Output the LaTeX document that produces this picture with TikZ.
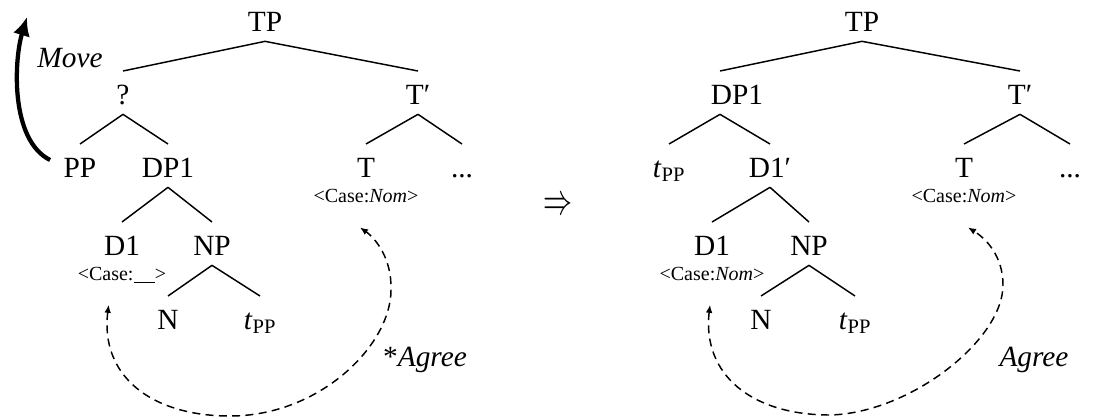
\documentclass[tikz,border=0pt]{standalone}
\usepackage{fontspec}
\setmainfont{Liberation Serif}
\usetikzlibrary{positioning,arrows.meta}

\begin{document}
\begin{tikzpicture}[x=0.75pt, y=-0.75pt,
  font=\fontsize{22}{26}\selectfont,
  every node/.style={inner sep=0pt, text height=14.6pt, text depth=0pt},
  feat/.style={font=\fontsize{15}{17}\selectfont, text height=10.2pt},
  branch/.style={line width=1.1pt},
  agree/.style={line width=1.1pt, dash pattern=on 6pt off 4pt,
    {Latex[length=6pt,width=5pt]}-{Latex[length=6pt,width=5pt]}}]

  \useasboundingbox (0,0) rectangle (1093,419);

  % before: ? = PP + DP1
  \node (tpa) at (265,22) {TP};
  \node (qa) at (123,95) {?};
  \node (tba) at (418,95) {T′};
  \node (ppa) at (80,168) {PP};
  \node (dpa) at (168,168) {DP1};
  \node (ta) at (366,168) {T};
  \node (dotsa) at (462,168) {...};
  \node[feat, below=8pt of ta] (casea) {<Case:\textit{Nom}>};
  \node (d1a) at (122,246) {D1};
  \node (npa) at (212,246) {NP};
  \node[feat, below=8pt of d1a] (blanka) {<Case:\underline{\hspace{16pt}}>};
  \node (na) at (168,320) {N};
  \node (tppa) at (260,320) {\textit{t}\textsubscript{PP}};

  \draw[branch] ([yshift=-7pt]tpa.south) -- ([yshift=10.5pt]qa.north);
  \draw[branch] ([yshift=-7pt]tpa.south) -- ([yshift=10.5pt]tba.north);
  \draw[branch] ([yshift=-7pt]qa.south) -- ([yshift=10.5pt]ppa.north);
  \draw[branch] ([yshift=-7pt]qa.south) -- ([yshift=10.5pt]dpa.north);
  \draw[branch] ([yshift=-7pt]tba.south) -- ([yshift=10.5pt]ta.north);
  \draw[branch] ([yshift=-7pt]tba.south) -- ([yshift=10.5pt]dotsa.north);
  \draw[branch] ([yshift=-7pt]dpa.south) -- ([yshift=10.5pt]d1a.north);
  \draw[branch] ([yshift=-7pt]dpa.south) -- ([yshift=10.5pt]npa.north);
  \draw[branch] ([yshift=-7pt]npa.south) -- ([yshift=10.5pt]na.north);
  \draw[branch] ([yshift=-7pt]npa.south) -- ([yshift=10.5pt]tppa.north);

  \coordinate (movetop) at (27,17);
  \draw[line width=3.2pt, -{Latex[length=14pt,width=13pt]}]
    ([xshift=-10pt,yshift=6pt]ppa.west) .. controls (10,140) and (14,60) .. (movetop);
  \node (move) at (70,58) {\textit{Move}};

  \draw[agree] ([xshift=-10pt,yshift=-18pt]blanka.south)
    .. controls (100,375) and (150,416) .. (230,416)
    .. controls (320,416) and (391,345) .. (391,290)
    .. controls (392,258) and (375,238) .. ([xshift=-4.5pt,yshift=-18.5pt]casea.south);
  \node (agreea) at (425,357) {*\textit{Agree}};

  \node (impl) at (558,205) {\scalebox{1.05}[1.6]{$\Rightarrow$}};

  % after: DP1 = tPP + D1'
  \node (tpb) at (862,22) {TP};
  \node (dpb) at (737,95) {DP1};
  \node (tbb) at (1020,95) {T′};
  \node (tpsb) at (669,168) {\textit{t}\textsubscript{PP}};
  \node (d1pb) at (770,168) {D1′};
  \node (tb) at (964,168) {T};
  \node (dotsb) at (1070,168) {...};
  \node[feat, below=8pt of tb] (caseb) {<Case:\textit{Nom}>};
  \node (d1b) at (712,246) {D1};
  \node (npb) at (809,246) {NP};
  \node[feat, below=8pt of d1b] (valb) {<Case:\textit{Nom}>};
  \node (nb) at (761,320) {N};
  \node (tppb) at (855,320) {\textit{t}\textsubscript{PP}};

  \draw[branch] ([yshift=-7pt]tpb.south) -- ([xshift=-12.75pt,yshift=10.5pt]dpb.north);
  \draw[branch] ([yshift=-7pt]tpb.south) -- ([yshift=10.5pt]tbb.north);
  \draw[branch] ([xshift=-12.75pt,yshift=-7pt]dpb.south) -- ([yshift=10.5pt]tpsb.north);
  \draw[branch] ([xshift=-12.75pt,yshift=-7pt]dpb.south) -- ([yshift=10.5pt]d1pb.north);
  \draw[branch] ([yshift=-7pt]tbb.south) -- ([yshift=10.5pt]tb.north);
  \draw[branch] ([yshift=-7pt]tbb.south) -- ([yshift=10.5pt]dotsb.north);
  \draw[branch] ([yshift=-7pt]d1pb.south) -- ([yshift=10.5pt]d1b.north);
  \draw[branch] ([yshift=-7pt]d1pb.south) -- ([yshift=10.5pt]npb.north);
  \draw[branch] ([yshift=-7pt]npb.south) -- ([yshift=10.5pt]nb.north);
  \draw[branch] ([yshift=-7pt]npb.south) -- ([yshift=10.5pt]tppb.north);

  \draw[agree] ([xshift=-1.5pt,yshift=-18pt]valb.south)
    .. controls (702,375) and (752,415) .. (830,415)
    .. controls (910,413) and (1003,340) .. (1003,285)
    .. controls (1003,255) and (985,238) .. ([xshift=3pt,yshift=-18.5pt]caseb.south);
  \node (agreeb) at (1034,357) {\textit{Agree}};

\end{tikzpicture}
\end{document}
